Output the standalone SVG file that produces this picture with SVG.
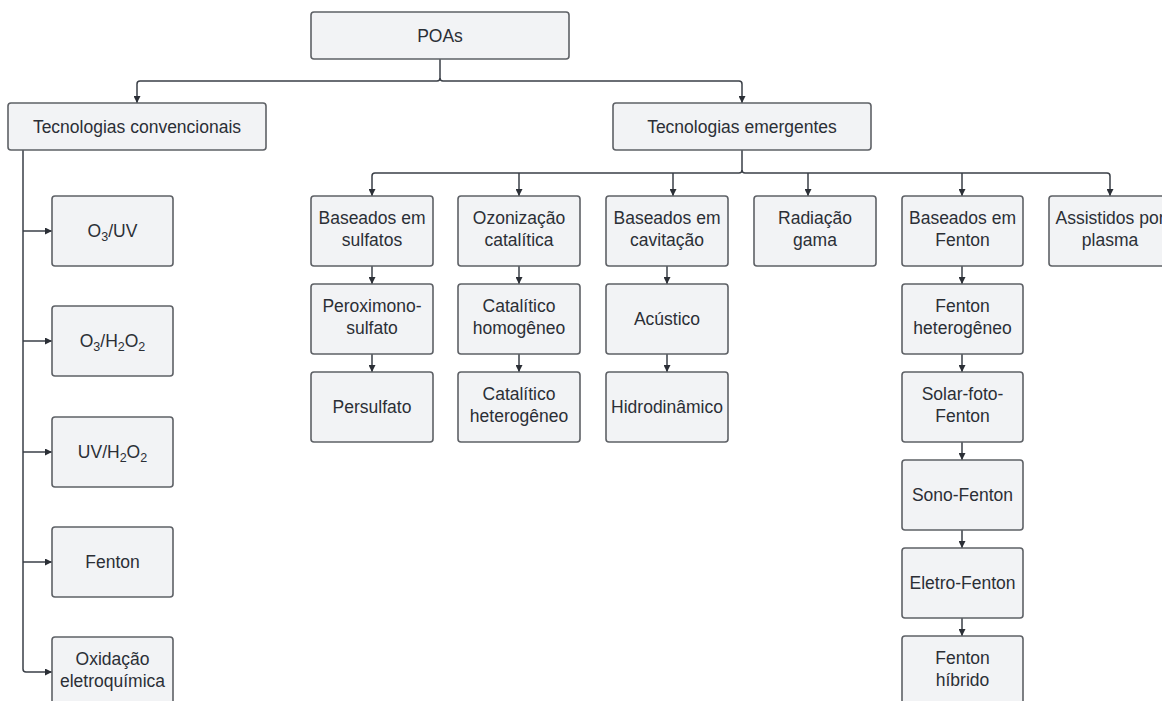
<svg xmlns="http://www.w3.org/2000/svg" width="1162" height="701" viewBox="0 0 1162 701">
<style>
.box{fill:#f2f3f5;stroke:#5e6166;stroke-width:1.6}
.t{font-family:"Liberation Sans",Arial,sans-serif;font-size:17.5px;fill:#2b2f36;text-anchor:middle}
.c{fill:none;stroke:#3a3f47;stroke-width:1.5}
.a{marker-end:url(#arr)}
.sub{font-size:12.5px}
</style>
<defs>
<marker id="arr" viewBox="0 0 10 10" refX="10" refY="5" markerWidth="9" markerHeight="7" orient="auto" markerUnits="userSpaceOnUse">
<path d="M0,0 L10,5 L0,10 z" fill="#2b2f36"/>
</marker>
</defs>
<rect width="1162" height="701" fill="#ffffff"/>
<g id="connectors">
<path class="c a" d="M440 59 V78 Q440 81 437 81 H140 Q137 81 137 84 V103"/>
<path class="c a" d="M440 78 Q440 81 443 81 H739 Q742 81 742 84 V103"/>
<path class="c a" d="M742 150 V170 Q742 173 739 173 H375 Q372 173 372 176 V196"/>
<path class="c a" d="M742 170 Q742 173 745 173 H1107 Q1110 173 1110 176 V196"/>
<path class="c a" d="M519 173 V196"/>
<path class="c a" d="M673 173 V196"/>
<path class="c a" d="M808 173 V196"/>
<path class="c a" d="M962 173 V196"/>
<path class="c a" d="M23 150 V669 Q23 672 26 672 H52"/>
<path class="c a" d="M23 231 H52"/>
<path class="c a" d="M23 341 H52"/>
<path class="c a" d="M23 452 H52"/>
<path class="c a" d="M23 562 H52"/>
<path class="c a" d="M372 266 V284"/>
<path class="c a" d="M372 354 V372"/>
<path class="c a" d="M519 266 V284"/>
<path class="c a" d="M519 354 V372"/>
<path class="c a" d="M667 266 V284"/>
<path class="c a" d="M667 354 V372"/>
<path class="c a" d="M962 266 V284"/>
<path class="c a" d="M962 354 V372"/>
<path class="c a" d="M962 442 V460"/>
<path class="c a" d="M962 530 V548"/>
<path class="c a" d="M962 618 V636"/>
</g>
<g id="poas"><rect class="box" x="311" y="12" width="258" height="47" rx="3"/><text class="t" x="440" y="41.5">POAs</text></g>
<g id="tec-conv"><rect class="box" x="8" y="103" width="258" height="47" rx="3"/><text class="t" x="137" y="132.5">Tecnologias convencionais</text></g>
<g id="tec-emerg"><rect class="box" x="613" y="103" width="258" height="47" rx="3"/><text class="t" x="742" y="132.5">Tecnologias emergentes</text></g>

<g id="o3uv"><rect class="box" x="52" y="196" width="121" height="70" rx="3"/><text class="t" x="112.5" y="236.5">O<tspan class="sub" dy="4">3</tspan><tspan dy="-4">/UV</tspan></text></g>
<g id="o3h2o2"><rect class="box" x="52" y="306" width="121" height="70" rx="3"/><text class="t" x="112.5" y="346.5">O<tspan class="sub" dy="4">3</tspan><tspan dy="-4">/H</tspan><tspan class="sub" dy="4">2</tspan><tspan dy="-4">O</tspan><tspan class="sub" dy="4">2</tspan></text></g>
<g id="uvh2o2"><rect class="box" x="52" y="417" width="121" height="70" rx="3"/><text class="t" x="112.5" y="457.5">UV/H<tspan class="sub" dy="4">2</tspan><tspan dy="-4">O</tspan><tspan class="sub" dy="4">2</tspan></text></g>
<g id="fenton"><rect class="box" x="52" y="527" width="121" height="70" rx="3"/><text class="t" x="112.5" y="567.5">Fenton</text></g>
<g id="oxid"><rect class="box" x="52" y="637" width="121" height="70" rx="3"/><text class="t" x="112.5" y="664.5">Oxidação</text><text class="t" x="112.5" y="686.5">eletroquímica</text></g>

<g id="sulfatos"><rect class="box" x="311" y="196" width="122" height="70" rx="3"/><text class="t" x="372" y="223.5">Baseados em</text><text class="t" x="372" y="245.5">sulfatos</text></g>
<g id="peroximono"><rect class="box" x="311" y="284" width="122" height="70" rx="3"/><text class="t" x="372" y="311.5">Peroximono-</text><text class="t" x="372" y="333.5">sulfato</text></g>
<g id="persulfato"><rect class="box" x="311" y="372" width="122" height="70" rx="3"/><text class="t" x="372" y="412.5">Persulfato</text></g>

<g id="ozonizacao"><rect class="box" x="458" y="196" width="122" height="70" rx="3"/><text class="t" x="519" y="223.5">Ozonização</text><text class="t" x="519" y="245.5">catalítica</text></g>
<g id="cat-homo"><rect class="box" x="458" y="284" width="122" height="70" rx="3"/><text class="t" x="519" y="311.5">Catalítico</text><text class="t" x="519" y="333.5">homogêneo</text></g>
<g id="cat-hetero"><rect class="box" x="458" y="372" width="122" height="70" rx="3"/><text class="t" x="519" y="399.5">Catalítico</text><text class="t" x="519" y="421.5">heterogêneo</text></g>

<g id="cavitacao"><rect class="box" x="606" y="196" width="122" height="70" rx="3"/><text class="t" x="667" y="223.5">Baseados em</text><text class="t" x="667" y="245.5">cavitação</text></g>
<g id="acustico"><rect class="box" x="606" y="284" width="122" height="70" rx="3"/><text class="t" x="667" y="324.5">Acústico</text></g>
<g id="hidro"><rect class="box" x="606" y="372" width="122" height="70" rx="3"/><text class="t" x="667" y="412.5">Hidrodinâmico</text></g>

<g id="radiacao"><rect class="box" x="754" y="196" width="122" height="70" rx="3"/><text class="t" x="815" y="223.5">Radiação</text><text class="t" x="815" y="245.5">gama</text></g>

<g id="fenton-based"><rect class="box" x="902" y="196" width="121" height="70" rx="3"/><text class="t" x="962.5" y="223.5">Baseados em</text><text class="t" x="962.5" y="245.5">Fenton</text></g>
<g id="fenton-hetero"><rect class="box" x="902" y="284" width="121" height="70" rx="3"/><text class="t" x="962.5" y="311.5">Fenton</text><text class="t" x="962.5" y="333.5">heterogêneo</text></g>
<g id="solar"><rect class="box" x="902" y="372" width="121" height="70" rx="3"/><text class="t" x="962.5" y="399.5">Solar-foto-</text><text class="t" x="962.5" y="421.5">Fenton</text></g>
<g id="sono"><rect class="box" x="902" y="460" width="121" height="70" rx="3"/><text class="t" x="962.5" y="500.5">Sono-Fenton</text></g>
<g id="eletro"><rect class="box" x="902" y="548" width="121" height="70" rx="3"/><text class="t" x="962.5" y="588.5">Eletro-Fenton</text></g>
<g id="hibrido"><rect class="box" x="902" y="636" width="121" height="70" rx="3"/><text class="t" x="962.5" y="663.5">Fenton</text><text class="t" x="962.5" y="685.5">híbrido</text></g>

<g id="plasma"><rect class="box" x="1049" y="196" width="122" height="70" rx="3"/><text class="t" x="1110" y="223.5">Assistidos por</text><text class="t" x="1110" y="245.5">plasma</text></g>
</svg>
